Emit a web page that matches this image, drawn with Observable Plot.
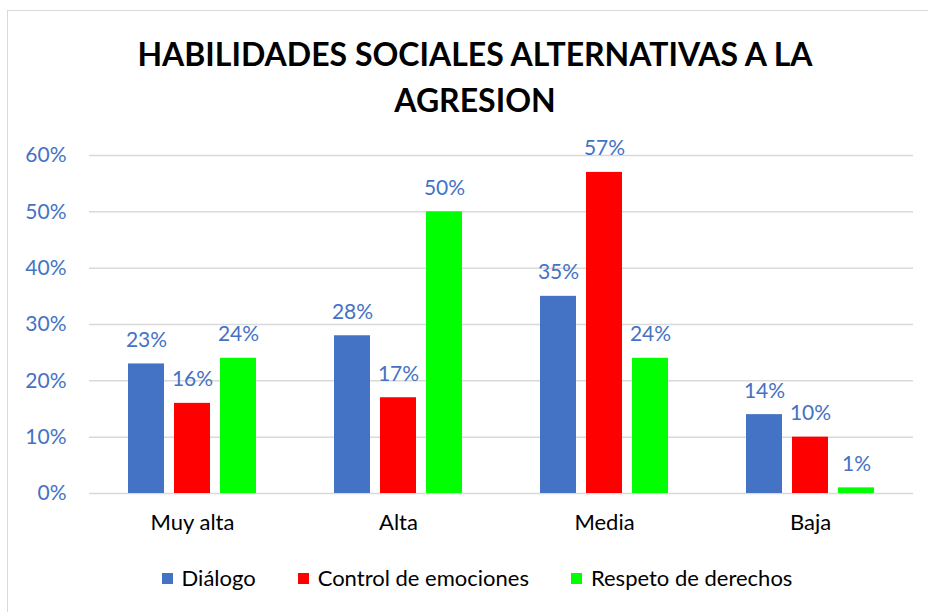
<!DOCTYPE html>
<html>
<head>
<meta charset="utf-8">
<script src="https://cdn.jsdelivr.net/npm/d3@7"></script>
<script src="https://cdn.jsdelivr.net/npm/@observablehq/plot@0.6"></script>
<style>
  body { margin: 0; background: #fff; }
  #wrap { position: relative; width: 928px; height: 612px; overflow: hidden; background: #fff; font-family: Lato, "Open Sans", sans-serif; }
  #frame { position: absolute; left: 7px; top: 10px; width: 960px; height: 640px; border: 1.5px solid #D9D9D9; }
  #title { position: absolute; left: 0; top: 31px; width: 950px; text-align: center; font-weight: bold; font-size: 32px; line-height: 46px; color: #000; }
  #chart { position: absolute; left: 0; top: 130px; }
  #legend { position: absolute; left: 0; top: 566px; width: 954px; display: flex; justify-content: center; align-items: center; font-size: 22px; line-height: 24px; color: #000; }
  .item { display: flex; align-items: center; margin: 0 21px; }
  .sw { width: 11px; height: 11px; margin-right: 9px; }
</style>
</head>
<body>
<div id="wrap">
  <div id="frame"></div>
  <div id="title">HABILIDADES SOCIALES ALTERNATIVAS A LA<br>AGRESION</div>
  <div id="chart"></div>
  <div id="legend"></div>
</div>
<script>
const categories = ["Muy alta", "Alta", "Media", "Baja"];
const series = ["Diálogo", "Control de emociones", "Respeto de derechos"];
const dialogo = [23, 28, 35, 14];
const control = [16, 17, 57, 10];
const respeto = [24, 50, 24, 1];
const colors = ["#4472C4", "#FF0000", "#00FF00"];
const yTicks = [0, 10, 20, 30, 40, 50, 60];

const values = [dialogo, control, respeto];
const data = categories.flatMap((c, i) =>
  series.map((s, j) => ({category: c, series: s, value: values[j][i]}))
);

const chart = Plot.plot({
  width: 928,
  height: 420,
  marginTop: 25,
  marginBottom: 57,
  marginLeft: 89,
  marginRight: 15,
  style: {fontFamily: "Lato, 'Open Sans', sans-serif", fontSize: "21px", background: "transparent"},
  fx: {domain: categories, padding: 0, label: null, round: false},
  x: {domain: series, paddingInner: 10 / 46, paddingOuter: 0.8478, round: false, axis: null},
  y: {domain: [0, 60], axis: null},
  color: {domain: series, range: colors},
  marks: [
    Plot.gridY(yTicks, {stroke: "#D9D9D9", strokeOpacity: 1, strokeWidth: 1.5}),
    Plot.axisY(yTicks, {tickSize: 0, tickPadding: 23, tickFormat: d => d + "%", fill: "#4472C4", fontSize: 21, label: null}),
    Plot.axisFx({anchor: "bottom", tickSize: 0, tickPadding: 21, fill: "#000", fontSize: 22, label: null}),
    Plot.barY(data, {fx: "category", x: "series", y: "value", fill: "series"}),
    Plot.text(data, {fx: "category", x: "series", y: "value", text: d => d.value + "%", fill: "#4472C4", lineAnchor: "bottom", dy: -17, fontSize: 21})
  ]
});
document.getElementById("chart").appendChild(chart);

const legend = document.getElementById("legend");
series.forEach((s, j) => {
  const item = document.createElement("div");
  item.className = "item";
  const sw = document.createElement("span");
  sw.className = "sw";
  sw.style.background = colors[j];
  const label = document.createElement("span");
  label.textContent = s;
  item.appendChild(sw);
  item.appendChild(label);
  legend.appendChild(item);
});
</script>
</body>
</html>
